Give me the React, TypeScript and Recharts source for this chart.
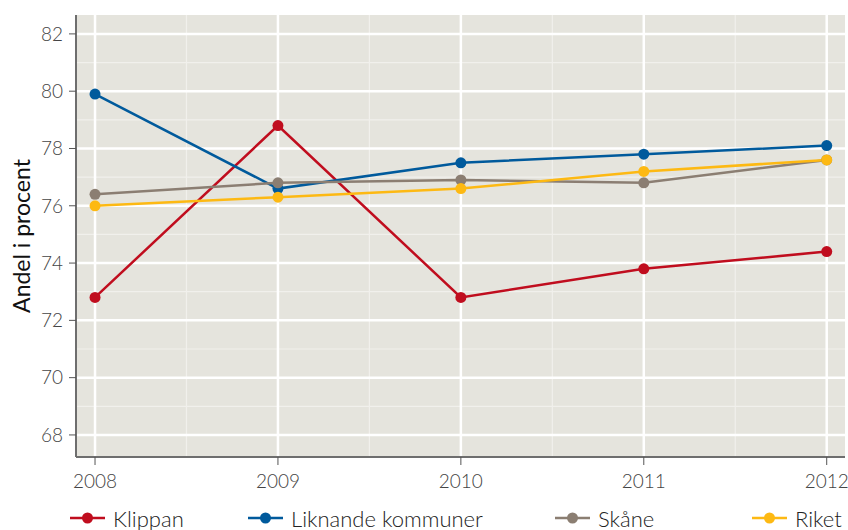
import React from 'react';
import { LineChart, Line, XAxis, YAxis, CartesianGrid } from 'recharts';

const years = [2008, 2009, 2010, 2011, 2012];
const klippan = [72.8, 78.8, 72.8, 73.8, 74.4];
const liknande = [79.9, 76.6, 77.5, 77.8, 78.1];
const skane = [76.4, 76.8, 76.9, 76.8, 77.6];
const riket = [76.0, 76.3, 76.6, 77.2, 77.6];

const yTicks = [68, 70, 72, 74, 76, 78, 80, 82];
const yMinor = [69, 71, 73, 75, 77, 79, 81];
const xMinor = [2008.5, 2009.5, 2010.5, 2011.5];

const series = [
  { key: 'klippan', name: 'Klippan', color: '#c00d1e', values: klippan },
  { key: 'liknande', name: 'Liknande kommuner', color: '#005a9c', values: liknande },
  { key: 'skane', name: 'Skåne', color: '#8b7e72', values: skane },
  { key: 'riket', name: 'Riket', color: '#fdb913', values: riket },
];

const data = years.map((year, i) => {
  const row: Record<string, number> = { year };
  series.forEach((s) => {
    row[s.key] = s.values[i];
  });
  return row;
});

const FONT = 'Lato, "Open Sans", sans-serif';

// legend start positions, like the original
const legendLeft = [70, 248, 555, 752];

const App: React.FC = () => {
  return (
    <div style={{ position: 'absolute', left: 0, top: 0, width: 848, height: 530, background: '#fff', fontFamily: FONT }}>
      <LineChart width={848} height={530} data={data} margin={{ top: 15, right: 3, bottom: 43, left: 0 }}>
        <CartesianGrid
          fill="#e5e4dd"
          fillOpacity={1}
          stroke="#f1f0ec"
          strokeWidth={1.2}
          horizontalValues={yMinor}
          verticalValues={xMinor}
        />
        <CartesianGrid stroke="#ffffff" strokeWidth={2.5} horizontalValues={yTicks} verticalValues={years} />
        <XAxis
          dataKey="year"
          type="number"
          height={30}
          domain={[2007.896, 2012.1]}
          allowDataOverflow
          ticks={years}
          tickSize={8}
          tickLine={{ stroke: '#555' }}
          axisLine={{ stroke: '#6e6e6e', strokeWidth: 2 }}
          tick={{ fill: '#444', fontSize: 19, fontWeight: 300, fontFamily: FONT }}
          tickMargin={10}
        />
        <YAxis
          type="number"
          width={76}
          domain={[67.23, 82.66]}
          allowDataOverflow
          ticks={yTicks}
          tickSize={7}
          tickLine={{ stroke: '#555' }}
          axisLine={{ stroke: '#6e6e6e', strokeWidth: 2 }}
          tick={{ fill: '#444', fontSize: 19, fontWeight: 300, fontFamily: FONT }}
          tickMargin={6}
          label={{
            value: 'Andel i procent',
            angle: -90,
            position: 'insideLeft',
            offset: 22,
            textAnchor: 'middle',
            style: { fill: '#111', fontSize: 23, fontWeight: 400, fontFamily: FONT, textAnchor: 'middle' },
          }}
        />
        {series.map((s) => (
          <Line
            key={s.key}
            dataKey={s.key}
            name={s.name}
            stroke={s.color}
            strokeWidth={2.5}
            dot={{ r: 5.5, fill: s.color, stroke: s.color, strokeWidth: 0 }}
            isAnimationActive={false}
          />
        ))}
      </LineChart>
      {series.map((s, i) => (
        <div
          key={s.key}
          style={{ position: 'absolute', left: legendLeft[i], top: 504, height: 28, display: 'flex', alignItems: 'center' }}
        >
          <svg width={35} height={14} style={{ marginRight: 8 }}>
            <line x1={0} y1={7} x2={35} y2={7} stroke={s.color} strokeWidth={2.5} />
            <circle cx={17.5} cy={7} r={5.5} fill={s.color} />
          </svg>
          <span style={{ fontSize: 22, fontWeight: 300, color: '#222', whiteSpace: 'nowrap' }}>{s.name}</span>
        </div>
      ))}
    </div>
  );
};

export default App;
